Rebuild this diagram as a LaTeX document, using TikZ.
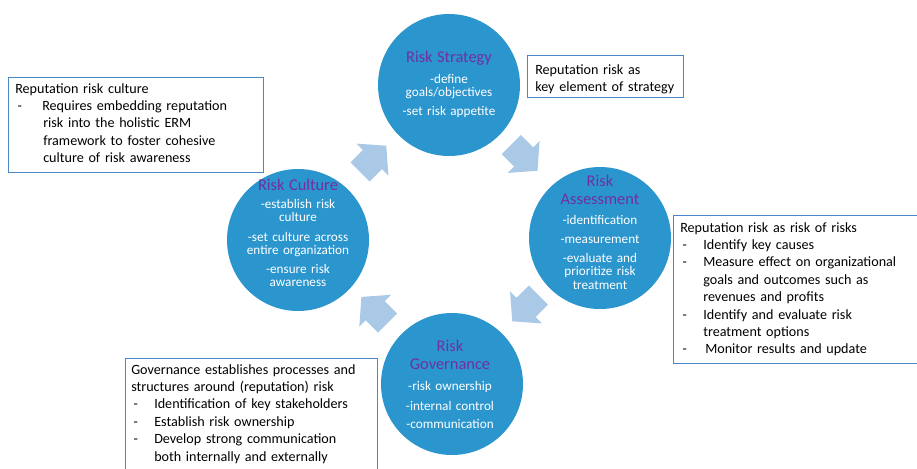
\documentclass[tikz,border=0pt]{standalone}
\usepackage{fontspec}
\setmainfont{Carlito}
\definecolor{circblue}{HTML}{2B95CE}
\definecolor{arrowblue}{HTML}{A9C9E6}
\definecolor{titlepurple}{HTML}{7030A0}
\definecolor{boxblue}{HTML}{4A86C8}
\newcommand\bodyf{\fontsize{9.9}{10}\selectfont\lineskiplimit=-20pt\lineskip=0pt}
\newcommand\titlef{\fontsize{12.3}{13.5}\selectfont\color{titlepurple}}
\newcommand\boxf{\fontsize{10.6}{13.05}\selectfont\lineskiplimit=-20pt\lineskip=0pt}
\newcommand\di[2][17.25pt]{\makebox[#1][l]{\hspace{1.75pt}-}#2}
\newcommand\ci[2][17.25pt]{\hspace*{#1}#2}
\tikzset{
  circ/.style={circle, fill=circblue, minimum size=106.5pt, inner sep=0pt},
  ctext/.style={text width=112pt, align=center, anchor=base, text=white, font=\bodyf, inner sep=0pt},
  tbox/.style={draw=boxblue, line width=0.75pt, fill=white},
  btext/.style={anchor=base west, text width=200pt, align=left, font=\boxf, inner sep=0pt},
  blockarrow/.style={fill=arrowblue}
}
\newcommand\blockarr[3]{%
  \begin{scope}[shift={(#1,#2)}, rotate=#3]
    \fill[blockarrow] (18.5,0) -- (-1,22.5) -- (-1,13.5) -- (-18.5,13.5)
      -- (-18.5,-13.5) -- (-1,-13.5) -- (-1,-22.5) -- cycle;
  \end{scope}}
\begin{document}
\begin{tikzpicture}[x=0.75pt,y=-0.75pt]
\useasboundingbox (0,0) rectangle (917,468);
% circles
\node[circ] (strat) at (449,85) {};
\node[circ] (assess) at (600,238) {};
\node[circ] (cult) at (298,240) {};
\node[circ] (gov) at (452,384) {};
% arrows
\blockarr{373.2}{158.8}{45}
\blockarr{524.4}{157.7}{-45}
\blockarr{525.3}{308.2}{-135}
\blockarr{374.5}{310}{135}
% circle texts
\node[ctext] (stratT) at (449,62) {{\titlef Risk Strategy\\[6pt]}-define\\goals/objectives\\[4.3pt]-set risk appetite};
\node[ctext] (assessT) at (600,186) {{\titlef Risk\\Assessment\\[5.2pt]}-identification\\[4.3pt]-measurement\\[4.3pt]-evaluate and\\prioritize risk\\treatment};
\node[ctext] (cultT) at (298,190) {{\titlef Risk Culture\\[3.7pt]}-establish risk\\culture\\[4.6pt]-set culture across\\entire organization\\[4.3pt]-ensure risk\\awareness};
\node[ctext] (govT) at (450,351) {{\titlef Risk\\Governance\\[6.2pt]}-risk ownership\\[4.6pt]-internal control\\[3.6pt]-communication};
% text boxes
\draw[tbox] (8,77) rectangle (263,172);
\node[btext] (cultB) at (15,93) {Reputation risk culture\\
\di[20.25pt]{Requires embedding reputation}\\
\ci[21pt]{risk into the holistic ERM}\\
\ci[21pt]{framework to foster cohesive}\\
\ci[21pt]{culture of risk awareness}};
\draw[tbox] (527,55) rectangle (683,97);
\node[btext] (stratB) at (535,74) {Reputation risk as\\key element of strategy};
\path[tbox] (918,215) -- (673,215) -- (673,363) -- (918,363);
\node[btext] (assessB) at (680,232) {Reputation risk as risk of risks\\
\di{Identify key causes}\\
\di{Measure effect on organizational}\\
\ci{goals and outcomes such as}\\
\ci{revenues and profits}\\
\di{Identify and evaluate risk}\\
\ci{treatment options}\\
\di[18.75pt]{Monitor results and update}};
\path[tbox] (125,470) -- (125,358) -- (377,358) -- (377,470);
\node[btext] (govB) at (131,374) {Governance establishes processes and\\
structures around (reputation) risk\\
\di{Identification of key stakeholders}\\
\di{Establish risk ownership}\\
\di{Develop strong communication}\\
\ci{both internally and externally}};
\end{tikzpicture}
\end{document}
